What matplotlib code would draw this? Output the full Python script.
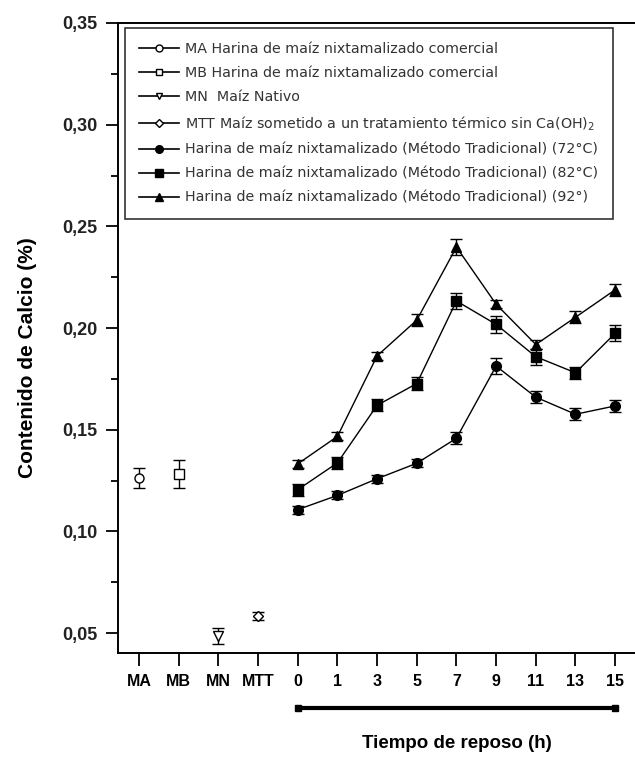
import numpy as np
import matplotlib
matplotlib.use("Agg")
import matplotlib.pyplot as plt
from matplotlib.lines import Line2D
from matplotlib.transforms import blended_transform_factory

plt.rcParams['font.family'] = ['Liberation Sans', 'DejaVu Sans']

# categories on the x axis
sample_labels = ['MA', 'MB', 'MN', 'MTT']
time_labels = ['0', '1', '3', '5', '7', '9', '11', '13', '15']

# single samples: mean and error
sample_vals = [0.1263, 0.1283, 0.0487, 0.0585]
sample_err = [0.0049, 0.0070, 0.0040, 0.0020]
sample_markers = ['o', 's', 'v', 'D']
sample_names = [
    'MA Harina de maíz nixtamalizado comercial',
    'MB Harina de maíz nixtamalizado comercial',
    'MN  Maíz Nativo',
    'MTT Maíz sometido a un tratamiento térmico sin Ca(OH)$_2$',
]

# time series (Método Tradicional)
t72 = [0.1107, 0.1177, 0.1259, 0.1335, 0.1458, 0.1813, 0.1660, 0.1576, 0.1617]
t72_err = [0.002, 0.002, 0.002, 0.002, 0.003, 0.004, 0.003, 0.003, 0.003]
t82 = [0.1205, 0.1337, 0.1620, 0.1727, 0.2133, 0.2018, 0.1859, 0.1780, 0.1974]
t82_err = [0.003, 0.003, 0.003, 0.003, 0.004, 0.004, 0.004, 0.003, 0.004]
t92 = [0.1332, 0.1467, 0.1863, 0.2039, 0.2398, 0.2117, 0.1919, 0.2053, 0.2188]
t92_err = [0.002, 0.002, 0.002, 0.003, 0.004, 0.002, 0.002, 0.003, 0.003]
series_markers = ['o', 's', '^']
series_names = [
    'Harina de maíz nixtamalizado (Método Tradicional) (72°C)',
    'Harina de maíz nixtamalizado (Método Tradicional) (82°C)',
    'Harina de maíz nixtamalizado (Método Tradicional) (92°)',
]

fig = plt.figure(figsize=(6.35, 7.57), dpi=100)
ax = fig.add_axes([118 / 635, 104 / 757, 517 / 635, 630 / 757])

# open-marker single samples
handles = []
for i, (v, e, m, name) in enumerate(zip(sample_vals, sample_err, sample_markers, sample_names)):
    ms = 6.5 if m != 'D' else 5.5
    ax.errorbar(i, v, yerr=e, fmt='none', ecolor='black', elinewidth=1, capsize=4, capthick=1)
    ax.plot(i, v, marker=m, ms=ms, mfc='white', mec='black', mew=1, ls='none')
    handles.append(Line2D([], [], marker=m, ms=5 if m != 'D' else 4.5, mfc='white', mec='black',
                          mew=1, color='black', lw=1.2, label=name))

# filled-marker time series
tx = np.arange(len(time_labels)) + len(sample_labels)
for vals, errs, m, name in zip([t72, t82, t92], [t72_err, t82_err, t92_err], series_markers, series_names):
    ms = 7 if m != 's' else 6.5
    ax.errorbar(tx, vals, yerr=errs, fmt='none', ecolor='black', elinewidth=1, capsize=4, capthick=1)
    ax.plot(tx, vals, color='black', lw=1, marker=m, ms=ms, mfc='black', mec='black')
    handles.append(Line2D([], [], marker=m, ms=5.5, mfc='black', mec='black',
                          color='black', lw=1.2, label=name))

ax.set_xlim(-0.53, 12.5)
ax.set_ylim(0.0402, 0.35)
ax.set_xticks(np.arange(len(sample_labels) + len(time_labels)))
ax.set_xticklabels(sample_labels + time_labels, fontsize=11.5, fontweight='bold')
yt = np.arange(0.05, 0.351, 0.05)
ax.set_yticks(yt)
ax.set_yticklabels([f'{v:.2f}'.replace('.', ',') for v in yt],
                   fontsize=13, fontweight='bold', color='#222222')
ax.set_yticks(np.arange(0.075, 0.35, 0.05), minor=True)
ax.tick_params(axis='both', which='major', direction='out', length=9, width=1.3, pad=6)
ax.tick_params(axis='y', which='minor', direction='out', length=5, width=1.3)
ax.tick_params(axis='x', which='minor', bottom=False)
for s in ['left', 'bottom', 'top']:
    ax.spines[s].set_linewidth(1.4)
ax.spines['right'].set_visible(False)

leg = ax.legend(handles=handles, loc='upper left', bbox_to_anchor=(7 / 517, 1 - 5 / 630),
                borderaxespad=0, frameon=True, fancybox=False,
                edgecolor='black', handlelength=2.8, handletextpad=0.4,
                labelspacing=0.7, borderpad=1.0, prop={'family': 'DejaVu Sans', 'size': 10.3})
leg.get_frame().set_linewidth(1.2)
for t in leg.get_texts():
    t.set_color('#333333')

# time arrow under the axis
trans = blended_transform_factory(ax.transData, ax.transAxes)
ax.plot([tx[0], tx[-1]], [-0.087, -0.087], color='black', lw=3, transform=trans,
        clip_on=False, marker='s', ms=4.5, solid_capstyle='butt')

fig.text(457 / 635, 1 - 743 / 757, 'Tiempo de reposo (h)', ha='center', va='center',
         fontsize=13.5, fontweight='bold')
fig.text(28 / 635, 1 - 358 / 757, 'Contenido de Calcio (%)', ha='center', va='center',
         rotation=90, fontsize=15, fontweight='bold')

fig.savefig('out.png', dpi=100)
